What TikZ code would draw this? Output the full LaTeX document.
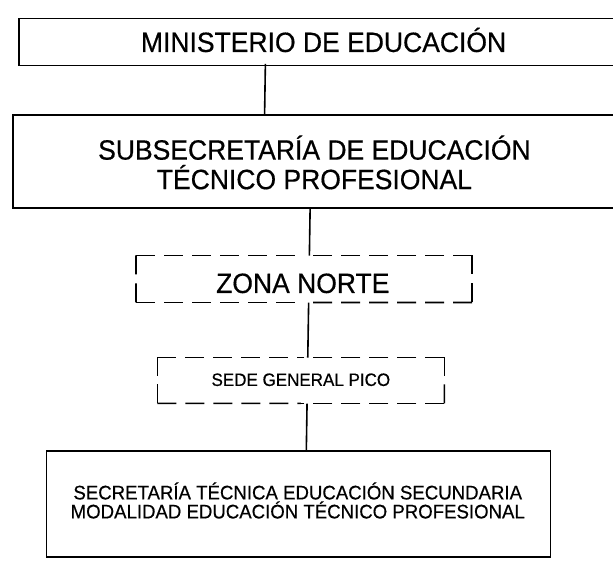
\documentclass[tikz,border=0pt]{standalone}
\usepackage{fontspec}
\setmainfont{Liberation Sans}[FakeStretch=0.95, FakeBold=0.5]
\begin{document}
\begin{tikzpicture}[x=1pt,y=-1pt,
  every node/.style={inner sep=0pt, outer sep=0pt},
  box/.style={draw, line width=1.6pt, rectangle},
  dframe/.style={rectangle},
  dside/.style={line width=1.6pt, dash pattern=on 19pt off 9pt},
  conn/.style={line width=1.6pt},
  bigtext/.style={font=\fontsize{27.9}{29.5}\selectfont, align=center, anchor=base},
  smalltext/.style={font=\fontsize{19.6}{19}\selectfont, align=center, anchor=base},
  sedetext/.style={font=\fontsize{17.9}{19}\selectfont, anchor=base}]
\useasboundingbox (0,0) rectangle (613,560);
\clip (0,0) rectangle (613,560);
\begin{scope}[rotate around={-0.9:(306.5,280)}]
  % boxes
  \node[box, minimum width=684.5pt, minimum height=47pt] (b1) at (357.75,41) {};
  \node[box, minimum width=689pt, minimum height=92.5pt] (b2) at (355.5,160.75) {};
  \node[dframe, minimum width=336pt, minimum height=47pt] (zn) at (304,279) {};
  \node[dframe, minimum width=287pt, minimum height=46pt] (sg) at (302.5,380.5) {};
  \node[box, minimum width=504pt, minimum height=106pt] (st) at (302,504) {};
  % dashed frames, each side drawn from its corners toward its middle
  \foreach \n in {zn,sg}{
    \draw[dside] (\n.north west) -- (\n.north);
    \draw[dside] (\n.north east) -- (\n.north);
    \draw[dside] (\n.south west) -- (\n.south);
    \draw[dside] (\n.south east) -- (\n.south);
    \draw[dside] (\n.north west) -- (\n.west);
    \draw[dside] (\n.south west) -- (\n.west);
    \draw[dside] (\n.north east) -- (\n.east);
    \draw[dside] (\n.south east) -- (\n.east);
  }
  % texts
  \node[bigtext] (t1) at (320,51.7) {MINISTERIO DE EDUCACIÓN};
  \node[bigtext] (t2) at (313,189) {SUBSECRETARÍA DE EDUCACIÓN\\TÉCNICO PROFESIONAL};
  \node[bigtext] (t3) at (303,293) {ZONA NORTE};
  \node[sedetext] (t4) at (302.5,386) {SEDE GENERAL PICO};
  \node[smalltext] (t5) at (301.5,518.5) {SECRETARÍA TÉCNICA EDUCACIÓN SECUNDARIA\\MODALIDAD EDUCACIÓN TÉCNICO PROFESIONAL};
  % connectors
  \coordinate (c1) at (262,0);
  \coordinate (c2) at (309,0);
  \draw[conn] (b1.south -| c1) -- (b2.north -| c1);
  \draw[conn] (b2.south -| c2) -- (zn.north -| c2);
  \draw[conn] (zn.south -| c2) -- (sg.north -| c2);
  \draw[conn] (sg.south -| c2) -- (st.north -| c2);
\end{scope}
\end{tikzpicture}
\end{document}
